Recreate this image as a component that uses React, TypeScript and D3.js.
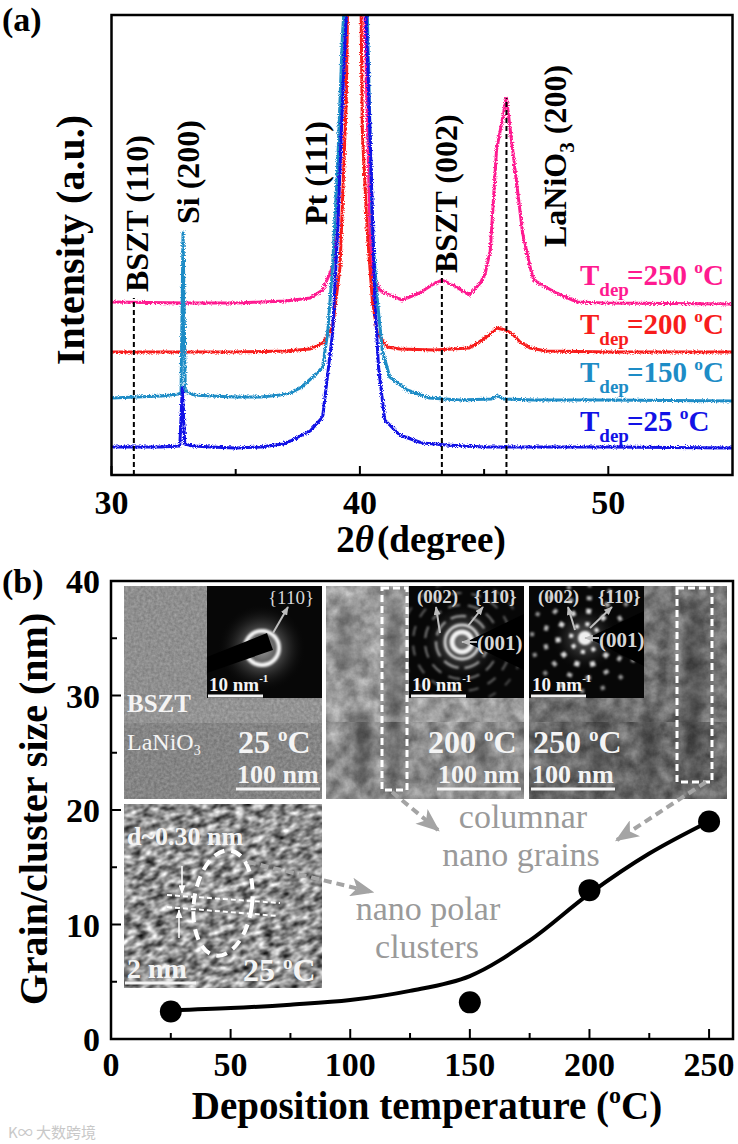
import React from "react";
import * as d3 from "d3";

const W = 738;
const H = 1144;
const SERIF = "'Liberation Serif', 'Times New Roman', serif";

// ---- panel (a): XRD patterns, intensity (a.u.) as stacked in the plot
const theta25 = [30, 31, 32, 32.75, 32.85, 32.95, 33.3, 34, 35, 36, 36.9, 37.2, 38.0, 38.5, 38.9, 39.1, 39.3, 39.45, 39.8, 40.25, 40.45, 40.6, 40.75, 41.0, 41.6, 42.5, 43.5, 45, 47, 50, 55];
const int25 = [28, 28, 28, 29, 87, 31, 29, 28, 27, 28, 31, 34, 44, 58, 142, 242, 375, 460, 800, 460, 308, 175, 108, 55, 40, 32, 30, 28, 28, 28, 27];

const theta150 = [30, 31, 32, 32.7, 32.8, 32.88, 32.97, 33.3, 34, 35, 36, 36.8, 37.2, 37.6, 38.2, 38.5, 38.7, 38.9, 39.1, 39.3, 39.35, 39.8, 40.3, 40.5, 40.7, 40.9, 41.2, 41.9, 42.8, 44, 45.3, 45.55, 45.8, 47, 50, 55];
const int150 = [77, 78, 79, 81, 82, 243, 84, 80, 79, 78, 78, 80, 82, 87, 100, 108, 142, 208, 308, 442, 460, 800, 460, 242, 175, 125, 98, 85, 77, 75, 76, 79, 76, 75, 75, 74];

const theta200 = [30, 33, 35, 37, 38.0, 38.5, 38.9, 39.2, 39.3, 39.45, 39.5, 39.8, 40.05, 40.1, 40.3, 40.5, 40.7, 41.1, 41.6, 43, 44.4, 44.8, 45.2, 45.5, 45.85, 46.1, 46.45, 46.85, 47.5, 50, 55];
const int200 = [123, 123, 123, 124, 126, 132, 148, 208, 275, 375, 460, 800, 460, 342, 242, 175, 142, 128, 126, 125, 127, 133, 140, 147, 145, 142, 133, 127, 124, 123, 123];

const theta250 = [30, 33, 35, 37, 38.0, 38.5, 38.9, 39.1, 39.3, 39.45, 39.8, 40.2, 40.4, 40.5, 40.8, 41.2, 41.7, 42.4, 42.9, 43.3, 43.75, 44.4, 44.85, 45.05, 45.25, 45.5, 45.9, 46.15, 46.55, 46.85, 47.0, 47.9, 48.75, 49.8, 55];
const int250 = [173, 172, 172, 174, 177, 185, 208, 242, 380, 460, 800, 460, 250, 202, 185, 180, 175, 182, 190, 195, 190, 180, 192, 202, 225, 325, 377, 325, 242, 208, 195, 182, 173, 172, 171];

const depTemps = ["250", "200", "150", "25"];
const depColors = ["#ff1a90", "#f81c1c", "#1d8cc6", "#1212e6"];

// reference peak positions (2theta) and where their dashed markers stop
const refTheta = [30.9, 43.3, 45.9];
const refTop = [177, 204, 377];

const thetaTicks = [30, 40, 50];
const thetaMinor = [35, 45];

// ---- panel (b): grain / cluster size vs deposition temperature
const temps = [25, 150, 200, 250];
const grainSize = [2.4, 3.2, 13.0, 19.0];
const fitTemps = [25, 50, 75, 100, 125, 150, 175, 200, 225, 250];
const fitSize = [2.5, 2.7, 3.0, 3.4, 4.2, 5.5, 8.6, 12.7, 16.2, 19.0];
const tempTicks = [0, 50, 100, 150, 200, 250];
const tempMinor = [25, 75, 125, 175, 225];
const sizeTicks = [0, 10, 20, 30, 40];
const sizeMinor = [5, 15, 25, 35];

function NoiseFilter({ id, freq, octaves, seed, mean, contrast }: any) {
  const b = mean - contrast * 0.5;
  const row = `${contrast} 0 0 0 ${b}`;
  return (
    <filter id={id} x="0" y="0" width="1" height="1" colorInterpolationFilters="sRGB">
      <feTurbulence type="fractalNoise" baseFrequency={freq} numOctaves={octaves} seed={seed} />
      <feColorMatrix type="matrix" values={`${row} ${row} ${row} 0 0 0 0 1`} />
      <feComposite in2="SourceGraphic" operator="in" />
    </filter>
  );
}

const white = "#f4f4f4";
const saedText = "#d6d6d6";

export default function App() {
  // panel (a) scales
  const xA = d3.scaleLinear().domain([30, 55]).range([111.5, 732.5]);
  const yA = d3.scaleLinear().domain([0, 460]).range([475, 15]);
  // panel (b) scales
  const xB = d3.scaleLinear().domain([0, 260]).range([111, 733]);
  const yB = d3.scaleLinear().domain([0, 40]).range([1039, 581]);

  const series = [
    { t: theta250, v: int250, c: depColors[0] },
    { t: theta200, v: int200, c: depColors[1] },
    { t: theta150, v: int150, c: depColors[2] },
    { t: theta25, v: int25, c: depColors[3] },
  ];
  const xrdLine = (t: number[]) =>
    d3.line<number>().x((_, i) => xA(t[i])).y((d) => yA(d));

  const fitLine = d3
    .line<number>()
    .x((_, i) => xB(fitTemps[i]))
    .y((d) => yB(d))
    .curve(d3.curveCatmullRom.alpha(0.5));

  const [a0, a1] = xA.range();
  const [ab, at] = yA.range();
  const [b0, b1] = xB.range();
  const [bb, bt] = yB.range();

  const degC = (fs: number, dy: number) => [
    <tspan key="o" fontSize={fs * 0.6} dy={-dy}>o</tspan>,
    <tspan key="c" dy={dy}>C</tspan>,
  ];

  return (
    <svg
      width={W}
      height={H}
      style={{ position: "absolute", left: 0, top: 0, background: "#fff" }}
      fontFamily={SERIF}
    >
      <defs>
        <clipPath id="clipA">
          <rect x={a0} y={at} width={a1 - a0} height={ab - at} />
        </clipPath>
        <filter id="jitter" x="-3%" y="-3%" width="106%" height="106%" colorInterpolationFilters="sRGB">
          <feTurbulence type="fractalNoise" baseFrequency="0.9" numOctaves="1" seed="7" result="t" />
          <feDisplacementMap in="SourceGraphic" in2="t" scale="4.5" xChannelSelector="R" yChannelSelector="G" />
        </filter>
        <NoiseFilter id="tem1u" freq="0.35" octaves={2} seed={3} mean={0.56} contrast={0.2} />
        <NoiseFilter id="tem1l" freq="0.35" octaves={2} seed={5} mean={0.52} contrast={0.2} />
        <NoiseFilter id="tem2u" freq="0.07" octaves={4} seed={8} mean={0.61} contrast={0.5} />
        <NoiseFilter id="tem2l" freq="0.07" octaves={4} seed={9} mean={0.55} contrast={0.5} />
        <NoiseFilter id="tem3u" freq="0.07" octaves={4} seed={11} mean={0.45} contrast={0.45} />
        <NoiseFilter id="tem3l" freq="0.07" octaves={4} seed={12} mean={0.41} contrast={0.45} />
        <NoiseFilter id="hrtem" freq="0.1 0.16" octaves={2} seed={2} mean={0.56} contrast={1.3} />
        <filter id="blur1" x="-50%" y="-50%" width="200%" height="200%">
          <feGaussianBlur stdDeviation="1.2" />
        </filter>
        <filter id="blur4" x="-50%" y="-50%" width="200%" height="200%">
          <feGaussianBlur stdDeviation="5" />
        </filter>
        <radialGradient id="halo">
          <stop offset="0" stopColor="#a0a0a0" />
          <stop offset="0.4" stopColor="#505050" />
          <stop offset="1" stopColor="#070707" stopOpacity="0" />
        </radialGradient>
        <clipPath id="clipHR">
          <rect x={124} y={804} width={198} height={184} />
        </clipPath>
        <marker id="gArrow" viewBox="0 0 20 16" refX="18" refY="8" markerWidth="24" markerHeight="19" markerUnits="userSpaceOnUse" orient="auto">
          <path d="M0,0 L20,8 L0,16 L5,8 Z" fill="#a4a4a4" />
        </marker>
        <marker id="sArrow" viewBox="0 0 10 8" refX="9" refY="4" markerWidth="9" markerHeight="7" markerUnits="userSpaceOnUse" orient="auto">
          <path d="M0,0 L10,4 L0,8 Z" fill="#bdbdbd" />
        </marker>
        <marker id="wArrow" viewBox="0 0 10 8" refX="9" refY="4" markerWidth="9" markerHeight="7" markerUnits="userSpaceOnUse" orient="auto">
          <path d="M0,0 L10,4 L0,8 Z" fill="#ffffff" />
        </marker>
      </defs>

      {/* ================= panel (a) ================= */}
      <text x={2} y={31} fontSize={34} fontWeight="bold">(a)</text>

      <g clipPath="url(#clipA)">
        {series.map((s, i) => (
          <path
            key={i}
            d={xrdLine(s.t)(s.v) || ""}
            fill="none"
            stroke={s.c}
            strokeWidth={3}
            strokeLinejoin="round"
            filter="url(#jitter)"
          />
        ))}
      </g>

      {refTheta.map((t, i) => (
        <line
          key={i}
          x1={xA(t)}
          x2={xA(t)}
          y1={ab}
          y2={yA(refTop[i])}
          stroke="#000"
          strokeWidth={2}
          strokeDasharray="5 3"
        />
      ))}

      {/* peak labels */}
      <g fontSize={32} fontWeight="bold">
        <text transform={`translate(148,292) rotate(-90)`}>BSZT (110)</text>
        <text transform={`translate(199,224) rotate(-90)`}>Si (200)</text>
        <text transform={`translate(327,225) rotate(-90)`}>Pt (111)</text>
        <text transform={`translate(457,273) rotate(-90)`}>BSZT (002)</text>
        <text transform={`translate(566,247) rotate(-90)`}>
          LaNiO<tspan fontSize={21} dy={8}>3</tspan>
          <tspan dy={-8}>{" (200)"}</tspan>
        </text>
      </g>

      {/* legend */}
      {depTemps.map((t, i) => {
        const base = 285 + i * 48.5;
        return (
          <text key={t} x={580} y={base} fontSize={29} fontWeight="bold" fill={depColors[i]}>
            T<tspan fontSize={19} dy={11}>dep</tspan>
            <tspan x={627} dy={-11}>{`=${t} `}</tspan>
            {degC(29, 12)}
          </text>
        );
      })}

      {/* frame and ticks */}
      <rect x={a0} y={at} width={a1 - a0} height={ab - at} fill="none" stroke="#000" strokeWidth={2.5} />
      {thetaTicks.map((t) => (
        <line key={t} x1={xA(t)} x2={xA(t)} y1={ab} y2={ab - 9} stroke="#000" strokeWidth={2} />
      ))}
      {thetaMinor.map((t) => (
        <line key={t} x1={xA(t)} x2={xA(t)} y1={ab} y2={ab - 6} stroke="#000" strokeWidth={2} />
      ))}
      {thetaTicks.map((t) => (
        <text key={t} x={xA(t)} y={514} fontSize={34} fontWeight="bold" textAnchor="middle">
          {t}
        </text>
      ))}
      <text x={421} y={552} fontSize={37} fontWeight="bold" textAnchor="middle">
        2<tspan fontStyle="italic">θ</tspan>
        <tspan dx={3}>(degree)</tspan>
      </text>
      <text transform="translate(84,240) rotate(-90)" fontSize={40} fontWeight="bold" textAnchor="middle">
        Intensity (a.u.)
      </text>

      {/* ================= panel (b) ================= */}
      <text x={2} y={593} fontSize={34} fontWeight="bold">(b)</text>

      {/* TEM 25 C */}
      <rect x={124} y={586} width={198} height={137} fill="#8e8e8e" filter="url(#tem1u)" />
      <rect x={124} y={723} width={198} height={76} fill="#858585" filter="url(#tem1l)" />
      <rect x={124} y={700} width={198} height={23} fill="#ffffff" opacity={0.05} />
      {/* TEM 200 C */}
      <rect x={326} y={586} width={198} height={136} fill="#999" filter="url(#tem2u)" />
      <rect x={326} y={722} width={198} height={77} fill="#8a8a8a" filter="url(#tem2l)" />
      <g filter="url(#blur4)" fill="#222" opacity={0.35}>
        <ellipse cx={362} cy={745} rx={11} ry={42} />
        <ellipse cx={395} cy={690} rx={9} ry={95} />
        <ellipse cx={346} cy={640} rx={8} ry={40} />
        <ellipse cx={483} cy={752} rx={9} ry={22} />
      </g>
      {/* TEM 250 C */}
      <rect x={529} y={586} width={198} height={136} fill="#777" filter="url(#tem3u)" />
      <rect x={529} y={722} width={198} height={77} fill="#6c6c6c" filter="url(#tem3l)" />
      <g filter="url(#blur4)" fill="#1a1a1a" opacity={0.35}>
        <ellipse cx={694} cy={690} rx={11} ry={95} />
        <ellipse cx={600} cy={745} rx={10} ry={40} />
        <ellipse cx={650} cy={748} rx={8} ry={38} />
      </g>

      {/* SAED 25 C */}
      <rect x={207} y={586} width={115} height={112} fill="#070707" />
      <circle cx={262} cy={648} r={44} fill="url(#halo)" />
      <circle cx={262} cy={648} r={17} fill="none" stroke="#f6f6f6" strokeWidth={4} filter="url(#blur1)" />
      <polygon points="207,657 267,633 273,650 207,673" fill="#000" />
      <line x1={273} y1={633} x2={288} y2={607} stroke="#bdbdbd" strokeWidth={2} markerEnd="url(#sArrow)" />
      <text x={268} y={604} fontSize={19} fill={saedText}>{"{110}"}</text>

      {/* SAED 200 C */}
      <rect x={409} y={586} width={115} height={112} fill="#070707" />
      <circle cx={462} cy={642} r={40} fill="url(#halo)" opacity={0.7} />
      <g fill="none" stroke="#f2f2f2" filter="url(#blur1)">
        <circle cx={462} cy={642} r={10} strokeWidth={5} />
        <circle cx={462} cy={642} r={17} strokeWidth={3} opacity={0.85} />
        <circle cx={462} cy={642} r={26} strokeWidth={2.5} strokeDasharray="16 6" opacity={0.6} />
        <circle cx={462} cy={642} r={37} strokeWidth={2} strokeDasharray="12 8" opacity={0.5} />
        <circle cx={462} cy={642} r={49} strokeWidth={2} strokeDasharray="10 10" opacity={0.4} />
        <circle cx={462} cy={642} r={61} strokeWidth={2} strokeDasharray="8 12" opacity={0.3} />
      </g>
      <polygon points="524,614 524,670 466,642" fill="#000" />
      <line x1={440} y1={633} x2={436} y2={607} stroke="#bdbdbd" strokeWidth={2} markerEnd="url(#sArrow)" />
      <line x1={468} y1={626} x2={483} y2={607} stroke="#bdbdbd" strokeWidth={2} markerEnd="url(#sArrow)" />
      <line x1={477} y1={642} x2={462} y2={642} stroke="#bdbdbd" strokeWidth={2} markerEnd="url(#sArrow)" />
      <g fontSize={19} fontWeight="bold" fill={saedText}>
        <text x={417} y={603}>(002)</text>
        <text x={474} y={603}>{"{110}"}</text>
        <text x={477} y={650} fontSize={21}>(001)</text>
      </g>

      {/* SAED 250 C */}
      <rect x={529} y={586} width={115} height={112} fill="#070707" />
      <circle cx={585} cy={638} r={34} fill="url(#halo)" opacity={0.55} />
      <g fill="none" stroke="#f4f4f4" filter="url(#blur1)">
        <circle cx={585} cy={638} r={6} fill="#eee" strokeWidth={2} />
        <circle cx={585} cy={638} r={14} strokeWidth={4} strokeDasharray="4 7" />
        <circle cx={585} cy={638} r={27} strokeWidth={5} strokeDasharray="5 11" opacity={0.9} />
        <circle cx={585} cy={638} r={40} strokeWidth={4} strokeDasharray="5 14" opacity={0.75} />
        <circle cx={585} cy={638} r={53} strokeWidth={4} strokeDasharray="4 17" opacity={0.6} />
      </g>
      <polygon points="644,611 644,666 588,638" fill="#000" />
      <line x1={575} y1={630} x2={568} y2={607} stroke="#bdbdbd" strokeWidth={2} markerEnd="url(#sArrow)" />
      <line x1={590} y1={628} x2={612} y2={607} stroke="#bdbdbd" strokeWidth={2} markerEnd="url(#sArrow)" />
      <line x1={599} y1={638} x2={585} y2={638} stroke="#bdbdbd" strokeWidth={2} markerEnd="url(#sArrow)" />
      <g fontSize={19} fontWeight="bold" fill={saedText}>
        <text x={538} y={603}>(002)</text>
        <text x={598} y={603}>{"{110}"}</text>
        <text x={599} y={647} fontSize={21}>(001)</text>
      </g>

      {/* SAED scale bars */}
      {[208, 411, 531].map((x) => (
        <g key={x} fill={white} fontWeight="bold">
          <text x={x + 1} y={691} fontSize={19}>
            10 nm<tspan fontSize={11} dy={-9}>-1</tspan>
          </text>
          <line x1={x} x2={x + 55} y1={696} y2={696} stroke={white} strokeWidth={3} />
        </g>
      ))}

      {/* columnar grain boxes */}
      <g fill="none" stroke="#fff" strokeWidth={3} strokeDasharray="7 4">
        <rect x={382} y={588} width={25} height={202} />
        <rect x={677} y={588} width={35} height={194} />
      </g>

      {/* TEM labels */}
      <g fill={white}>
        <text x={127} y={712} fontSize={25} fontWeight="bold">BSZT</text>
        <text x={127} y={750} fontSize={24}>
          LaNiO<tspan fontSize={14} dy={5}>3</tspan>
        </text>
        {[
          { x: 238, t: "25" },
          { x: 428, t: "200" },
          { x: 533, t: "250" },
        ].map((d) => (
          <text key={d.t} x={d.x} y={753} fontSize={32} fontWeight="bold">
            {`${d.t} `}
            {degC(32, 12)}
          </text>
        ))}
        {[237, 438, 532].map((x) => (
          <g key={x}>
            <text x={x} y={783} fontSize={26} fontWeight="bold">100 nm</text>
            <line x1={x - 1} x2={x + 83} y1={789} y2={789} stroke={white} strokeWidth={3} />
          </g>
        ))}
      </g>

      {/* HRTEM */}
      <g clipPath="url(#clipHR)">
        <rect x={124} y={804} width={198} height={184} fill="#8a8a8a" />
        <rect x={40} y={720} width={370} height={360} fill="#888" transform="rotate(-18 223 896)" filter="url(#hrtem)" />
      </g>
      <ellipse cx={223} cy={903} rx={29} ry={53} transform="rotate(8 223 903)" fill="none" stroke="#fff" strokeWidth={4} strokeDasharray="11 7" />
      <g stroke="#fff" strokeWidth={2} strokeDasharray="5 3">
        <line x1={167} y1={895} x2={280} y2={903} />
        <line x1={167} y1={907} x2={278} y2={916} />
      </g>
      <line x1={182} y1={866} x2={182} y2={893} stroke="#fff" strokeWidth={1.5} markerEnd="url(#wArrow)" />
      <line x1={179} y1={938} x2={179} y2={910} stroke="#fff" strokeWidth={1.5} markerEnd="url(#wArrow)" />
      <g fill={white} fontWeight="bold">
        <text x={127} y={845} fontSize={26}>d~0.30 nm</text>
        <text x={127} y={978} fontSize={28}>2 nm</text>
        <line x1={125} x2={196} y1={983} y2={983} stroke={white} strokeWidth={3} />
        <text x={243} y={981} fontSize={32}>
          {"25 "}
          {degC(32, 12)}
        </text>
      </g>

      {/* annotations */}
      <g fill="none" stroke="#a4a4a4" strokeWidth={4} strokeDasharray="8 5">
        <line x1={392} y1={792} x2={438} y2={830} markerEnd="url(#gArrow)" />
        <line x1={706} y1={782} x2={617} y2={840} markerEnd="url(#gArrow)" />
        <line x1={248} y1={862} x2={372} y2={892} markerEnd="url(#gArrow)" />
      </g>
      <g fill="#9a9a9a" fontSize={34} textAnchor="middle">
        <text x={523} y={828}>columnar</text>
        <text x={521} y={866}>nano grains</text>
        <text x={428} y={920}>nano polar</text>
        <text x={427} y={958}>clusters</text>
      </g>

      {/* fit and points */}
      <path d={fitLine(fitSize) || ""} fill="none" stroke="#000" strokeWidth={4} />
      {temps.map((t, i) => (
        <circle key={t} cx={xB(t)} cy={yB(grainSize[i])} r={11} fill="#000" />
      ))}

      {/* frame and ticks */}
      <rect x={b0} y={bt} width={b1 - b0} height={bb - bt} fill="none" stroke="#000" strokeWidth={2.5} />
      {tempTicks.map((t) => (
        <line key={t} x1={xB(t)} x2={xB(t)} y1={bb} y2={bb - 10} stroke="#000" strokeWidth={2} />
      ))}
      {tempMinor.map((t) => (
        <line key={t} x1={xB(t)} x2={xB(t)} y1={bb} y2={bb - 6} stroke="#000" strokeWidth={2} />
      ))}
      {sizeTicks.map((t) => (
        <line key={t} x1={b0} x2={b0 + 10} y1={yB(t)} y2={yB(t)} stroke="#000" strokeWidth={2} />
      ))}
      {sizeMinor.map((t) => (
        <line key={t} x1={b0} x2={b0 + 6} y1={yB(t)} y2={yB(t)} stroke="#000" strokeWidth={2} />
      ))}
      <g fontSize={34} fontWeight="bold">
        {tempTicks.map((t) => (
          <text key={t} x={xB(t)} y={1076} textAnchor="middle">{t}</text>
        ))}
        {sizeTicks.map((t) => (
          <text key={t} x={100} y={yB(t) + 12} textAnchor="end">{t}</text>
        ))}
      </g>
      <text x={427} y={1119} fontSize={39} fontWeight="bold" textAnchor="middle">
        {"Deposition temperature ("}
        <tspan fontSize={24} dy={-16}>o</tspan>
        <tspan dy={16}>C)</tspan>
      </text>
      <text transform="translate(47,809) rotate(-90)" fontSize={40} fontWeight="bold" textAnchor="middle">
        Grain/cluster size (nm)
      </text>

      {/* watermark */}
      <text x={8} y={1138} fontSize={15} fill="#c8c8c8" fontFamily="'Noto Sans CJK SC', sans-serif">
        K∞ 大数跨境
      </text>
    </svg>
  );
}
